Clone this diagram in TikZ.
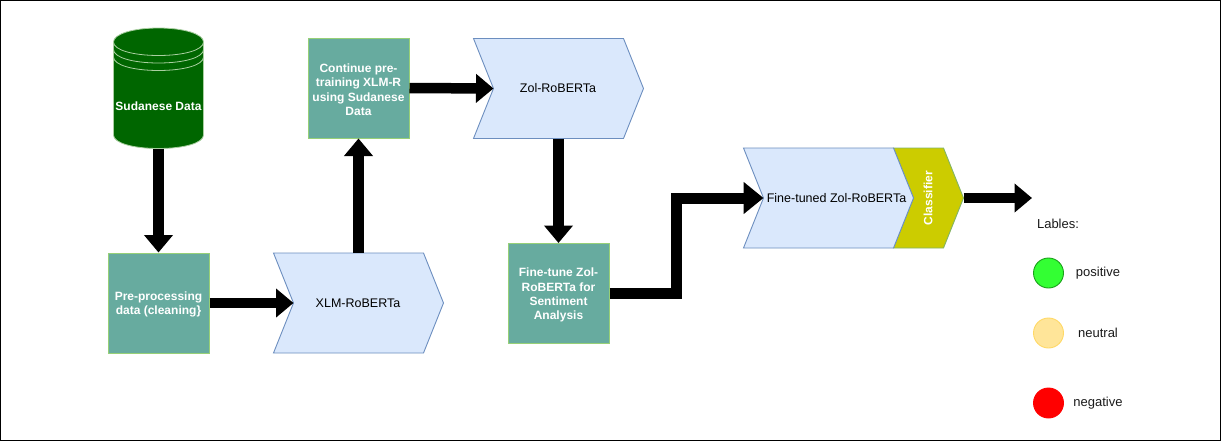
\documentclass[tikz,border=0pt]{standalone}
\usepackage{fontspec}
\setmainfont{Liberation Sans}
\usetikzlibrary{arrows.meta}
\definecolor{boxfill}{HTML}{67AB9F}
\definecolor{boxline}{HTML}{97D077}
\definecolor{chevfill}{HTML}{DAE8FC}
\definecolor{chevline}{HTML}{6C8EBF}
\definecolor{clsfill}{HTML}{CCCC00}
\definecolor{clsline}{HTML}{82B366}
\definecolor{cylfill}{HTML}{006600}
\definecolor{cylline}{HTML}{A9CFA0}
\definecolor{posfill}{HTML}{33FF33}
\definecolor{posline}{HTML}{1BA01B}
\definecolor{neufill}{HTML}{FFE599}
\definecolor{neuline}{HTML}{FFD966}
\definecolor{txt}{HTML}{1A1A1A}
\newcommand{\topgap}{\rule{0pt}{12pt}}
\tikzset{
  x=1pt,y=-1pt,
  procbox/.style={draw=boxline,fill=boxfill,line width=1pt,minimum width=101pt,minimum height=100pt,inner sep=3pt,
    align=center,text=white,font=\fontsize{12}{14.4}\selectfont\bfseries},
  chevtext/.style={font=\fontsize{12.5}{15}\selectfont,text=black},
  chevshape/.style={draw=chevline,fill=chevfill,line width=0.9pt,line join=miter},
  flow/.style={line width=10.5pt,-{Triangle[length=17.5pt,width=28pt]},black},
  bigflow/.style={line width=11pt,line join=miter,-{Triangle[length=20pt,width=31pt]},black},
  dot/.style={circle,minimum size=30pt,inner sep=0pt,line width=0.9pt},
  legend/.style={font=\fontsize{13}{15}\selectfont,text=txt,inner sep=0pt},
}
% #1 name, #2 left, #3 top, #4 width of the whole chevron
\newcommand{\chevron}[4]{%
  \draw[chevshape] (#2,#3) -- (#2+#4-20,#3) -- (#2+#4,#3+50) -- (#2+#4-20,#3+100)
     -- (#2,#3+100) -- (#2+20,#3+50) -- cycle;
  \coordinate (#1-notch) at (#2+20,#3+50);
  \coordinate (#1-tip) at (#2+#4,#3+50);
}
\begin{document}
\begin{tikzpicture}
\useasboundingbox (0,0) rectangle (1221,442);
\fill[white] (0,0) rectangle (1221,442);
\draw[black,line width=1pt] (0.5,0.5) rectangle (1220.5,440.5);

% cylinder
\draw[fill=cylfill,draw=cylline,line width=0.8pt]
  (113.5,42) .. controls (113.5,34) and (133,28) .. (158.5,28)
  .. controls (184,28) and (203.5,34) .. (203.5,42)
  -- (203.5,135) .. controls (203.5,143) and (184,148.5) .. (158.5,148.5)
  .. controls (133,148.5) and (113.5,143) .. (113.5,135) -- cycle;
\foreach \dy in {0,7.5,15}
  \draw[draw=cylline,line width=0.8pt]
    (113.5,42+\dy) .. controls (113.5,50+\dy) and (133,55.5+\dy) .. (158.5,55.5+\dy)
    .. controls (184,55.5+\dy) and (203.5,50+\dy) .. (203.5,42+\dy);
\node[inner sep=0pt,text=white,font=\fontsize{12}{14}\selectfont\bfseries] (sudanese) at (158.5,106.5) {Sudanese Data};
\coordinate (cylbottom) at (158.5,148.5);

% boxes
\node[procbox] (preproc) at (158.5,303) {\topgap Pre-processing\\data (cleaning\}};
\node[procbox] (continue) at (358.5,88) {\topgap Continue pre-\\training XLM-R\\using Sudanese\\Data};
\node[procbox] (finetune) at (558.5,293.5) {\topgap Fine-tune Zol-\\RoBERTa for\\Sentiment\\Analysis};

% chevrons
\chevron{xlm}{273.5}{253}{170}
\node[chevtext] (xlmtext) at (358,303) {XLM-RoBERTa};
\chevron{zol}{473.5}{38.5}{170}
\node[chevtext] (zoltext) at (558,88) {Zol-RoBERTa};
\coordinate (zolbottom) at (558.5,138.5);
\coordinate (xlmtop) at (358.5,253);

% classifier sits behind the fine-tuned chevron's right edge
\draw[draw=clsline,fill=clsfill,line width=0.9pt] (893.5,148) -- (943.5,148) -- (963.5,198) -- (943.5,248) -- (893.5,248) -- (913.5,198) -- cycle;
\draw[chevshape] (743.5,148) -- (893.5,148) -- (913.5,198) -- (893.5,248) -- (743.5,248) -- (763.5,198) -- cycle;
\coordinate (fine-notch) at (763.5,198);
\coordinate (cls-tip) at (963.5,198);
\coordinate (outend) at (1032,198);
\node[chevtext,inner sep=0pt] (finetext) at (836.5,198) {Fine-tuned Zol-RoBERTa};
\node[rotate=90,inner sep=0pt,text=white,font=\fontsize{12}{14}\selectfont\bfseries] (classifier) at (928,198) {Classifier};

% connectors
\draw[flow] (cylbottom) -- (preproc.north);
\draw[flow] (preproc.east) -- (xlm-notch);
\draw[flow] (xlmtop) -- (continue.south);
\draw[flow] (continue.east) -- (zol-notch);
\draw[flow] (zolbottom) -- (finetune.north);
\draw[bigflow] (finetune.east) -- (676,293.5) -- (676,198) -- (fine-notch);
\draw[flow] (cls-tip) -- (outend);

% legend
\node[legend] (lables) at (1058,223.5) {Lables:};
\node[dot,draw=posline,fill=posfill] (pos) at (1048.5,273) {};
\node[dot,draw=neuline,fill=neufill] (neu) at (1048.5,333) {};
\node[dot,draw=red,fill=red] (neg) at (1048.5,403) {};
\node[legend] (postext) at (1098,273.5) {positive};
\node[legend] (neutext) at (1098,333) {neutral};
\node[legend] (negtext) at (1098,403.5) {negative};
\end{tikzpicture}
\end{document}
